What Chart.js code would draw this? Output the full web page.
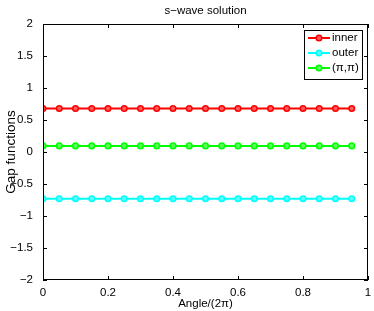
<!DOCTYPE html>
<html lang="en">
<head>
  <meta charset="utf-8">
  <title>s-wave solution</title>
  <script src="https://cdn.jsdelivr.net/npm/chart.js@4.4.1/dist/chart.umd.min.js"></script>
  <style>
    html, body { margin: 0; padding: 0; background: #fff; }
    #wrap { width: 374px; height: 311px; }
  </style>
</head>
<body>
<div id="wrap"><canvas id="myChart" width="374" height="311"></canvas></div>
<script>
// data
var angles = [0, 0.05, 0.1, 0.15, 0.2, 0.25, 0.3, 0.35, 0.4, 0.45, 0.5, 0.55, 0.6, 0.65, 0.7, 0.75, 0.8, 0.85, 0.9, 0.95];
var inner = [0.68, 0.68, 0.68, 0.68, 0.68, 0.68, 0.68, 0.68, 0.68, 0.68, 0.68, 0.68, 0.68, 0.68, 0.68, 0.68, 0.68, 0.68, 0.68, 0.68];
var outer = [-0.73, -0.73, -0.73, -0.73, -0.73, -0.73, -0.73, -0.73, -0.73, -0.73, -0.73, -0.73, -0.73, -0.73, -0.73, -0.73, -0.73, -0.73, -0.73, -0.73];
var pipi = [0.095, 0.095, 0.095, 0.095, 0.095, 0.095, 0.095, 0.095, 0.095, 0.095, 0.095, 0.095, 0.095, 0.095, 0.095, 0.095, 0.095, 0.095, 0.095, 0.095];
var seriesNames = ['inner', 'outer', '(\u03c0,\u03c0)'];
var xTicks = [0, 0.2, 0.4, 0.6, 0.8, 1];
var yTicks = [-2, -1.5, -1, -0.5, 0, 0.5, 1, 1.5, 2];

var FONT = 'Liberation Sans, Arial, sans-serif';

function pts(ys) {
  return angles.map(function (a, i) { return { x: a, y: ys[i] }; });
}

function ds(label, ys, color, fill) {
  return {
    label: label,
    data: pts(ys),
    borderColor: color,
    backgroundColor: color,
    borderWidth: 2,
    pointRadius: 2.8,
    pointBorderWidth: 1.5,
    pointBackgroundColor: fill,
    pointBorderColor: color
  };
}

function fmt(v) {
  return String(v).replace('-', '\u2212');
}

// box, inward ticks, title and legend like the matlab figure
var matlabFrame = {
  id: 'matlabFrame',
  afterDraw: function (chart) {
    var c = chart.ctx, a = chart.chartArea;
    var xs = chart.scales.x, ys = chart.scales.y;
    c.save();
    c.strokeStyle = '#000';
    c.lineWidth = 1;
    c.strokeRect(a.left + 0.5, a.top + 0.5, a.right - a.left - 1, a.bottom - a.top - 1);
    c.beginPath();
    xTicks.forEach(function (v) {
      var px = Math.round(xs.getPixelForValue(v)) + 0.5;
      c.moveTo(px, a.bottom); c.lineTo(px, a.bottom - 4);
      c.moveTo(px, a.top); c.lineTo(px, a.top + 4);
    });
    yTicks.forEach(function (v) {
      var py = Math.round(ys.getPixelForValue(v)) + 0.5;
      c.moveTo(a.left, py); c.lineTo(a.left + 4, py);
      c.moveTo(a.right, py); c.lineTo(a.right - 4, py);
    });
    c.stroke();

    // title
    c.fillStyle = '#000';
    c.font = '11.5px ' + FONT;
    c.textAlign = 'center';
    c.textBaseline = 'middle';
    c.fillText('s\u2212wave solution', (a.left + a.right) / 2, 11);

    // legend
    var lx = 304, ly = 30, lw = 58, lh = 49;
    c.fillStyle = '#fff';
    c.fillRect(lx, ly, lw, lh);
    c.strokeRect(lx + 0.5, ly + 0.5, lw, lh);
    chart.data.datasets.forEach(function (d, i) {
      var yy = ly + 8 + i * 15;
      c.strokeStyle = d.borderColor;
      c.lineWidth = 2;
      c.beginPath();
      c.moveTo(lx + 4, yy); c.lineTo(lx + 26, yy);
      c.stroke();
      c.beginPath();
      c.arc(lx + 15, yy, 2.8, 0, Math.PI * 2);
      c.fillStyle = d.pointBackgroundColor;
      c.fill();
      c.lineWidth = 1.5;
      c.stroke();
      c.fillStyle = '#000';
      c.textAlign = 'left';
      c.fillText(seriesNames[i], lx + 28, yy);
    });
    c.restore();
  }
};

var ctx = document.getElementById('myChart').getContext('2d');
var chart = new Chart(ctx, {
  type: 'line',
  data: {
    datasets: [
      ds(seriesNames[0], inner, '#ff0000', 'rgba(255,90,90,1)'),
      ds(seriesNames[1], outer, '#00ffff', 'rgba(90,255,255,1)'),
      ds(seriesNames[2], pipi, '#00ff00', 'rgba(90,255,90,1)')
    ]
  },
  options: {
    responsive: false,
    animation: false,
    layout: { padding: { top: 24, right: 6, left: 3, bottom: 0 } },
    plugins: { legend: { display: false }, title: { display: false }, tooltip: { enabled: false } },
    scales: {
      x: {
        type: 'linear',
        min: 0, max: 1,
        afterBuildTicks: function (s) { s.ticks = xTicks.map(function (v) { return { value: v }; }); },
        afterFit: function (s) { s.height = 31; },
        grid: { display: false },
        border: { display: false },
        ticks: { color: '#000', font: { family: FONT, size: 11.5 }, padding: -2, maxRotation: 0, callback: fmt },
        title: { display: true, text: 'Angle/(2\u03c0)', color: '#000', font: { family: FONT, size: 11.5 }, padding: { top: 0, bottom: 0 } }
      },
      y: {
        min: -2, max: 2,
        afterBuildTicks: function (s) { s.ticks = yTicks.map(function (v) { return { value: v }; }); },
        afterFit: function (s) { s.width = 40; },
        grid: { display: false },
        border: { display: false },
        ticks: { color: '#000', font: { family: FONT, size: 11.5 }, padding: 2, callback: fmt },
        title: { display: true, text: 'Gap functions', color: '#000', font: { family: FONT, size: 13.5 }, padding: { top: 0, bottom: 0 } }
      }
    }
  },
  plugins: [matlabFrame]
});
</script>
</body>
</html>
